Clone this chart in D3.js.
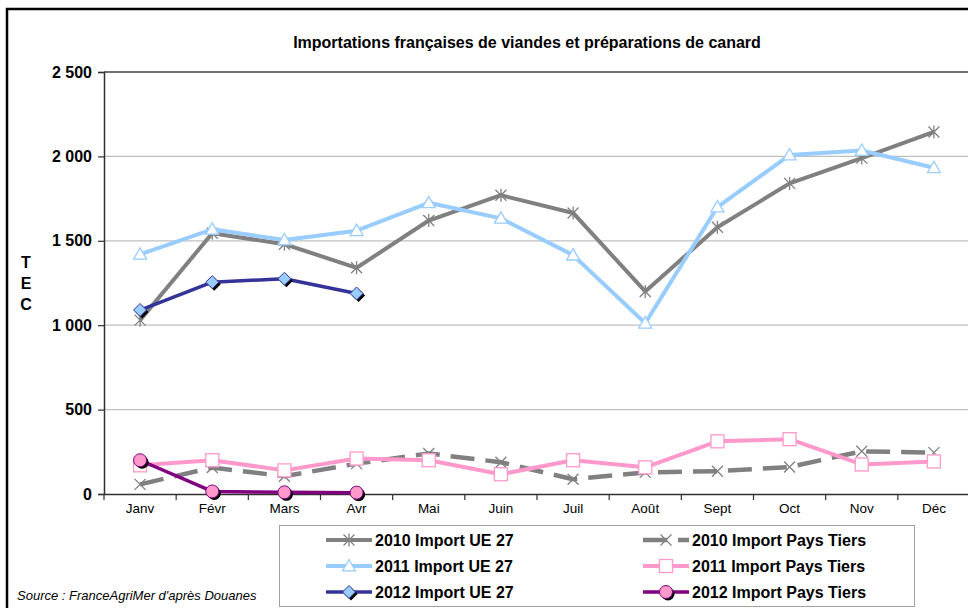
<!DOCTYPE html>
<html>
<head>
<meta charset="utf-8">
<script src="https://cdn.jsdelivr.net/npm/d3@7"></script>
<style>
html,body{margin:0;padding:0;background:#fff;overflow:hidden;}
svg{display:block;font-family:"Liberation Sans",Arial,sans-serif;}
</style>
</head>
<body>
<svg id="chart" width="968" height="608"></svg>
<script>
const months = ["Janv","Févr","Mars","Avr","Mai","Juin","Juil","Août","Sept","Oct","Nov","Déc"];
const yTicks = [0, 500, 1000, 1500, 2000, 2500];
const ue2010 = [1030, 1545, 1480, 1340, 1620, 1770, 1665, 1200, 1580, 1840, 1990, 2145];
const ue2011 = [1420, 1568, 1505, 1560, 1725, 1633, 1415, 1012, 1700, 2008, 2035, 1933];
const ue2012 = [1090, 1255, 1275, 1188];
const pt2010 = [57, 157, 105, 180, 240, 188, 87, 128, 135, 160, 253, 245];
const pt2011 = [170, 200, 140, 210, 200, 117, 200, 158, 312, 325, 175, 193];
const pt2012 = [200, 15, 10, 8];
const title = "Importations françaises de viandes et préparations de canard";
const yLabel = ["T","E","C"];
const source = "Source : FranceAgriMer d'après Douanes";

const series = [
  {name:"2010 Import UE 27", data:ue2010, color:"#808080", width:4, dash:null, marker:"star", col:0, row:0},
  {name:"2011 Import UE 27", data:ue2011, color:"#99CCFF", width:4, dash:null, marker:"triangle", col:0, row:1},
  {name:"2012 Import UE 27", data:ue2012, color:"#333399", width:3.5, dash:null, marker:"diamond", col:0, row:2},
  {name:"2010 Import Pays Tiers", data:pt2010, color:"#808080", width:4.5, dash:"24,11", marker:"x", col:1, row:0},
  {name:"2011 Import Pays Tiers", data:pt2011, color:"#FF99CC", width:4, dash:null, marker:"square", col:1, row:1},
  {name:"2012 Import Pays Tiers", data:pt2012, color:"#800080", width:3.5, dash:null, marker:"circle", col:1, row:2}
];

const svg = d3.select("#chart");
const L = 104, R = 970, T = 72, B = 494;
const x = d3.scaleBand().domain(months).range([L, R]).paddingInner(0).paddingOuter(0);
const y = d3.scaleLinear().domain([0, 2500]).range([B, T]);
const cx = m => x(m) + x.bandwidth()/2;

// outer border
svg.append("rect").attr("x",7).attr("y",9).attr("width",1000).attr("height",640)
  .attr("fill","none").attr("stroke","#000").attr("stroke-width",2.5);

// title
svg.append("text").attr("x",527).attr("y",48).attr("text-anchor","middle")
  .attr("font-size",16).attr("font-weight","bold").text(title);

// gridlines
svg.append("g").selectAll("line").data(yTicks.filter(d => d>0 && d<2500)).join("line")
  .attr("x1",L).attr("x2",R).attr("y1",d=>y(d)).attr("y2",d=>y(d))
  .attr("stroke","#C0C0C0").attr("stroke-width",1.2);
svg.append("line").attr("x1",L).attr("x2",R).attr("y1",y(2500)).attr("y2",y(2500))
  .attr("stroke","#404040").attr("stroke-width",1.5);

// y axis
const yAxis = d3.axisLeft(y).tickValues(yTicks).tickSize(6).tickPadding(6)
  .tickFormat(d => d3.format(",")(d).replace(/,/g," "));
const gy = svg.append("g").attr("transform",`translate(${L},0)`).call(yAxis);
gy.select(".domain").attr("stroke","#303030").attr("stroke-width",1.5);
gy.selectAll(".tick line").attr("stroke","#303030").attr("stroke-width",1.2);
gy.selectAll(".tick text").attr("font-size",16).attr("font-weight","bold")
  .attr("fill","#000").attr("font-family","Liberation Sans, Arial, sans-serif");

// x axis
const xAxis = d3.axisBottom(x).tickSize(0).tickPadding(9);
const gx = svg.append("g").attr("transform",`translate(0,${B})`).call(xAxis);
gx.select(".domain").attr("stroke","#303030").attr("stroke-width",1.5);
gx.selectAll(".tick text").attr("font-size",13.5).attr("fill","#000")
  .attr("font-family","Liberation Sans, Arial, sans-serif");
// category boundary ticks
const bounds = months.map(m => x(m)).concat([R]);
svg.append("g").selectAll("line").data(bounds).join("line")
  .attr("x1",d=>d).attr("x2",d=>d).attr("y1",B).attr("y2",B+6)
  .attr("stroke","#303030").attr("stroke-width",1.2);

// y label
svg.append("g").selectAll("text").data(yLabel).join("text")
  .attr("x",26).attr("y",(d,i)=>268+i*21).attr("text-anchor","middle")
  .attr("font-size",16).attr("font-weight","bold").text(d=>d);

// markers
function drawMarker(g, type, px, py) {
  switch(type) {
    case "star": {
      const r = 5.5;
      g.append("path").attr("d",`M${px-r},${py-r}L${px+r},${py+r}M${px-r},${py+r}L${px+r},${py-r}M${px},${py-r-1}L${px},${py+r+1}`)
        .attr("stroke","#808080").attr("stroke-width",1.3).attr("fill","none");
      break;
    }
    case "x": {
      const r = 5.5;
      g.append("path").attr("d",`M${px-r},${py-r}L${px+r},${py+r}M${px-r},${py+r}L${px+r},${py-r}`)
        .attr("stroke","#808080").attr("stroke-width",1.3).attr("fill","none");
      break;
    }
    case "triangle": {
      const r = 6.5;
      g.append("path").attr("d",`M${px},${py-r}L${px+r},${py+r*0.75}L${px-r},${py+r*0.75}Z`)
        .attr("stroke","#99CCFF").attr("stroke-width",1.3).attr("fill","#fff");
      break;
    }
    case "square": {
      const r = 6.5;
      g.append("rect").attr("x",px-r).attr("y",py-r).attr("width",2*r).attr("height",2*r)
        .attr("stroke","#FF99CC").attr("stroke-width",1.3).attr("fill","#fff");
      break;
    }
    case "diamond": {
      const r = 6.5;
      const d = (ox,oy)=>`M${px+ox},${py-r+oy}L${px+r+ox},${py+oy}L${px+ox},${py+r+oy}L${px-r+ox},${py+oy}Z`;
      g.append("path").attr("d",d(2,2)).attr("fill","#000");
      g.append("path").attr("d",d(0,0)).attr("fill","#99CCFF").attr("stroke","#333399").attr("stroke-width",1);
      break;
    }
    case "circle": {
      const r = 6.5;
      g.append("circle").attr("cx",px+2).attr("cy",py+2).attr("r",r).attr("fill","#000");
      g.append("circle").attr("cx",px).attr("cy",py).attr("r",r).attr("fill","#FF99CC").attr("stroke","#800080").attr("stroke-width",1);
      break;
    }
  }
}

const line = d3.line().x((d,i)=>cx(months[i])).y(d=>y(d));
const drawOrder = [3,0,1,4,2,5];
drawOrder.forEach(k => {
  const s = series[k];
  const g = svg.append("g");
  g.append("path").datum(s.data).attr("d",line).attr("fill","none")
    .attr("stroke",s.color).attr("stroke-width",s.width)
    .attr("stroke-dasharray",s.dash).attr("stroke-linejoin","round");
  s.data.forEach((v,i)=>drawMarker(g, s.marker, cx(months[i]), y(v)));
});

// legend
const lg = svg.append("g");
lg.append("rect").attr("x",279.5).attr("y",525.5).attr("width",635).attr("height",81)
  .attr("fill","#fff").attr("stroke","#A0A0A0").attr("stroke-width",1);
const colX = [326, 643];
series.forEach(s => {
  const x0 = colX[s.col], yy = 540 + s.row*26;
  lg.append("line").attr("x1",x0).attr("x2",x0+46).attr("y1",yy).attr("y2",yy)
    .attr("stroke",s.color).attr("stroke-width",s.width).attr("stroke-dasharray",s.dash);
  drawMarker(lg, s.marker, x0+23, yy);
  lg.append("text").attr("x",x0+49).attr("y",yy+6).attr("font-size",16).attr("font-weight","bold").text(s.name);
});

// source
svg.append("text").attr("x",17).attr("y",600).attr("font-size",13).attr("font-style","italic").text(source);
</script>
</body>
</html>
